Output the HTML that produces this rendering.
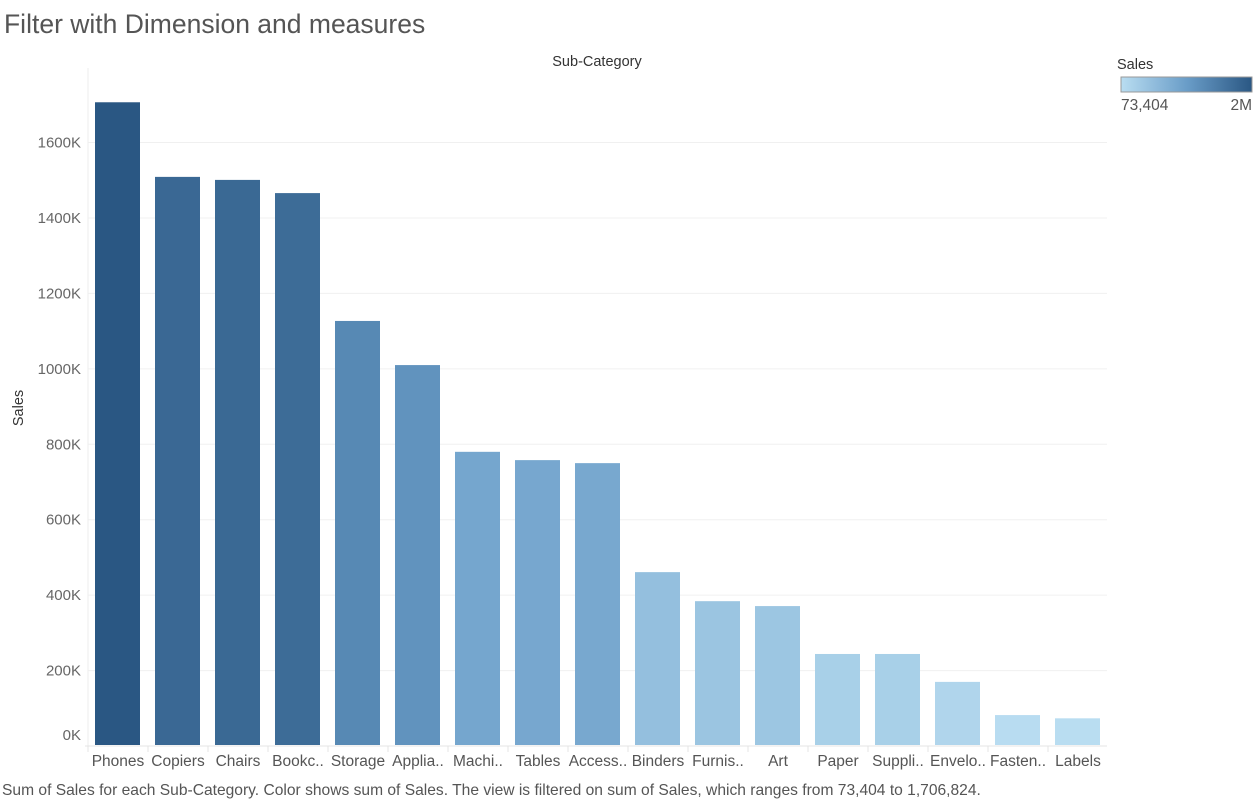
<!DOCTYPE html>
<html><head><meta charset="utf-8"><style>
body{margin:0;background:#fff;font-family:"Liberation Sans",sans-serif;}
svg text{font-family:"Liberation Sans",sans-serif;}
</style></head><body>
<svg width="1257" height="800">
<defs><linearGradient id="lg" x1="0" x2="1"><stop offset="0" stop-color="#b9ddf1"/><stop offset="0.5" stop-color="#6a9dc8"/><stop offset="1" stop-color="#2a5783"/></linearGradient></defs>
<text x="4" y="33" font-size="26.5" fill="#555">Filter with Dimension and measures</text>
<text x="597" y="66" font-size="14.5" fill="#333" text-anchor="middle">Sub-Category</text>
<text x="23" y="408" font-size="14.5" fill="#333" text-anchor="middle" transform="rotate(-90 23 408)">Sales</text>
<g id="grid"></g><g id="bars"></g><g id="xl"></g><g id="yl"></g>
<line x1="88" y1="68" x2="88" y2="746" stroke="#eee"/>
<line x1="85" y1="746" x2="1107" y2="746" stroke="#e4e4e4"/>
<text x="1117" y="69" font-size="14.5" fill="#333">Sales</text>
<rect x="1121" y="77" width="131" height="15" fill="url(#lg)" stroke="#999"/>
<text x="1121" y="110" font-size="15.5" fill="#555">73,404</text>
<text x="1252" y="110" font-size="15.5" fill="#555" text-anchor="end">2M</text>
<text x="2" y="795" font-size="15.6" fill="#555">Sum of Sales for each Sub-Category.  Color shows sum of Sales. The view is filtered on sum of Sales, which ranges from 73,404 to 1,706,824.</text>
</svg>
<script>
const categories=["Phones","Copiers","Chairs","Bookc..","Storage","Applia..","Machi..","Tables","Access..","Binders","Furnis..","Art","Paper","Suppli..","Envelo..","Fasten..","Labels"];
const sales=[1706824,1509000,1501000,1466000,1127000,1010000,780000,758000,750000,461000,384000,371000,244000,244000,170000,82000,73404];
const yTicks=[0,200000,400000,600000,800000,1000000,1200000,1400000,1600000];
const yTickLabels=["0K","200K","400K","600K","800K","1000K","1200K","1400K","1600K"];
const NS="http://www.w3.org/2000/svg";
const y=v=>746-v/200000*75.43;
const x=i=>88+i*60;
const minV=73404,maxV=1706824;
function col(v){const t=Math.max(0,Math.min(1,(v-minV)/(maxV-minV)));
 const a=[185,221,241],m=[106,157,200],b=[42,87,131];let c;
 if(t<0.5){const s=t/0.5;c=a.map((q,k)=>Math.round(q+(m[k]-q)*s));}else{const s=(t-0.5)/0.5;c=m.map((q,k)=>Math.round(q+(b[k]-q)*s));}
 return `rgb(${c})`;}
function mk(t,at,p){const e=document.createElementNS(NS,t);for(const k in at)e.setAttribute(k,at[k]);p.appendChild(e);return e;}
const G=document.getElementById('grid'),B=document.getElementById('bars'),XL=document.getElementById('xl'),YL=document.getElementById('yl');
yTicks.forEach((v,i)=>{
 if(v>0){const l=mk('line',{x1:88,x2:1107,y1:y(v),y2:y(v),stroke:'#f0f0f0'},G);
 
 }
 const t=mk('text',{x:81,y:y(v)+(v===0?-6:5),'font-size':15,fill:'#666','text-anchor':'end'},YL);t.textContent=yTickLabels[i];
 
 
});
categories.forEach((c,i)=>{
 const r=mk('rect',{x:x(i)+7,y:y(sales[i]),width:45,height:745-y(sales[i]),fill:col(sales[i])},B);
 
 
 const t=mk('text',{x:x(i)+30,y:766,'font-size':15.5,fill:'#555','text-anchor':'middle'},XL);t.textContent=c;
 
 
 const s=mk('line',{x1:x(i),x2:x(i),y1:746,y2:752,stroke:'#e4e4e4'},XL);
 
 
});
</script>
</body></html>
